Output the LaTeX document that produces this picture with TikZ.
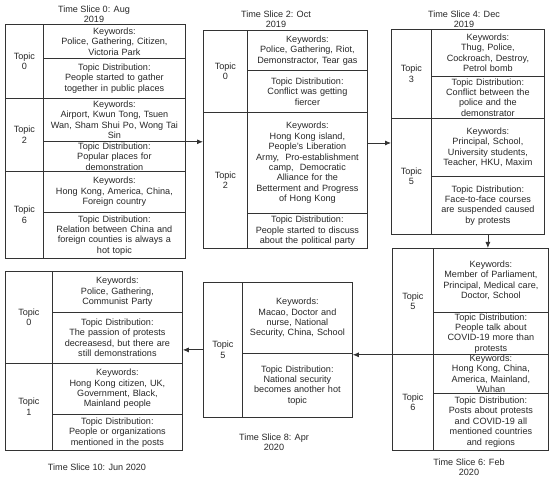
\documentclass[tikz,border=0pt]{standalone}
\usepackage{fontspec}
\setmainfont{Liberation Sans}
\usetikzlibrary{arrows.meta}

\begin{document}
\begin{tikzpicture}[x=1pt,y=-1pt,
    font=\fontsize{9.1}{10.4}\selectfont, text=black!85,
    box/.style 2 args={draw=black!80, line width=0.8pt, anchor=north west, align=center,
        inner xsep=2pt, inner ysep=0.3pt, minimum width=#1, minimum height=#2, text width=#1-5},
    title/.style={align=center},
    arr/.style={draw=black!80, line width=0.8pt, -{Latex[length=6pt,width=5pt]}}]
    \useasboundingbox (0,0) rectangle (550,478);

    % time slice 0
    \node[title] (s0title) at (94,14) {Time Slice 0: Aug\\2019};
    \node[box={38}{74}] (s0t0) at (5,24) {Topic\\0};
    \node[box={142}{34}] (s0t0kw) at (43,24) {Keywords:\\Police, Gathering, Citizen,\\Victoria Park};
    \node[box={142}{40}] (s0t0td) at (43,58) {Topic Distribution:\\People started to gather\\together in public places};
    \node[box={38}{73}] (s0t2) at (5,98) {Topic\\2};
    \node[box={142}{43}] (s0t2kw) at (43,98) {Keywords:\\Airport, Kwun Tong, Tsuen\\Wan, Sham Shui Po, Wong Tai\\Sin};
    \node[box={142}{30}] (s0t2td) at (43,141) {Topic Distribution:\\Popular places for\\demonstration};
    \node[box={38}{87}] (s0t6) at (5,171) {Topic\\6};
    \node[box={142}{41}] (s0t6kw) at (43,171) {Keywords:\\Hong Kong, America, China,\\Foreign country};
    \node[box={142}{46}] (s0t6td) at (43,212) {Topic Distribution:\\Relation between China and\\foreign counties is always a\\hot topic};

    % time slice 2
    \node[title] (s2title) at (276,19) {Time Slice 2: Oct\\2019};
    \node[box={44}{82}] (s2t0) at (203,30) {Topic\\0};
    \node[box={120}{40}] (s2t0kw) at (247,30) {Keywords:\\Police, Gathering, Riot,\\Demonstractor, Tear gas};
    \node[box={120}{42}] (s2t0td) at (247,70) {Topic Distribution:\\Conflict was getting\\fiercer};
    \node[box={44}{136}] (s2t2) at (203,112) {Topic\\2};
    \node[box={120}{101}] (s2t2kw) at (247,112) {Keywords:\\Hong Kong island,\\People's Liberation\\Army,\ \ Pro-establishment\\camp,\ \ Democratic\\Alliance for the\\Betterment and Progress\\of Hong Kong};
    \node[box={120}{35}] (s2t2td) at (247,213) {Topic Distribution:\\People started to discuss\\about the political party};

    % time slice 4
    \node[title] (s4title) at (464,19) {Time Slice 4: Dec\\2019};
    \node[box={40}{89}] (s4t3) at (391,29) {Topic\\3};
    \node[box={113}{47}] (s4t3kw) at (431,29) {Keywords:\\Thug, Police,\\Cockroach, Destroy,\\Petrol bomb};
    \node[box={113}{42}] (s4t3td) at (431,76) {Topic Distribution:\\Conflict between the\\police and the\\demonstrator};
    \node[box={40}{116}] (s4t5) at (391,118) {Topic\\5};
    \node[box={113}{58}] (s4t5kw) at (431,118) {Keywords:\\Principal, School,\\University students,\\Teacher, HKU, Maxim};
    \node[box={113}{58}] (s4t5td) at (431,176) {Topic Distribution:\\Face-to-face courses\\are suspended caused\\by protests};

    % time slice 6
    \node[box={41}{106}] (s6t5) at (392,248) {Topic\\5};
    \node[box={115}{64}] (s6t5kw) at (433,248) {Keywords:\\Member of Parliament,\\Principal, Medical care,\\Doctor, School};
    \node[box={115}{42}] (s6t5td) at (433,312) {Topic Distribution:\\People talk about\\COVID-19 more than\\protests};
    \node[box={41}{96}] (s6t6) at (392,354) {Topic\\6};
    \node[box={115}{39}] (s6t6kw) at (433,354) {Keywords:\\Hong Kong, China,\\America, Mainland,\\Wuhan};
    \node[box={115}{57}] (s6t6td) at (433,393) {Topic Distribution:\\Posts about protests\\and COVID-19 all\\mentioned countries\\and regions};
    \node[title] (s6title) at (469,467) {Time Slice 6: Feb\\2020};

    % time slice 8
    \node[box={39}{135}] (s8t5) at (203,282) {Topic\\5};
    \node[box={110}{71}] (s8t5kw) at (242,282) {Keywords:\\Macao, Doctor and\\nurse, National\\Security, China, School};
    \node[box={110}{64}] (s8t5td) at (242,353) {Topic Distribution:\\National security\\becomes another hot\\topic};
    \node[title] (s8title) at (274,442) {Time Slice 8: Apr\\2020};

    % time slice 10
    \node[box={47}{92}] (s10t0) at (5,271) {Topic\\0};
    \node[box={130}{41}] (s10t0kw) at (52,271) {Keywords:\\Police, Gathering,\\Communist Party};
    \node[box={130}{51}] (s10t0td) at (52,312) {Topic Distribution:\\The passion of protests\\decreasesd, but there are\\still demonstrations};
    \node[box={47}{87}] (s10t1) at (5,363) {Topic\\1};
    \node[box={130}{51}] (s10t1kw) at (52,363) {Keywords:\\Hong Kong citizen, UK,\\Government, Black,\\Mainland people};
    \node[box={130}{36}] (s10t1td) at (52,414) {Topic Distribution:\\People or organizations\\mentioned in the posts};
    \node[title] (s10title) at (97,467) {Time Slice 10: Jun 2020};

    % arrows between the time slices
    \coordinate (bc) at (0,143);
    \draw[arr] (s0t2kw.south east) -- (s0t2kw.south east -| s2t2.west);
    \draw[arr] (s2t2kw.east |- bc) -- (s4t5.west |- bc);
    \draw[arr] (s4t5td.south) -- (s4t5td.south |- s6t5kw.north);
    \draw[arr] (s6t5.south west) -- (s6t5.south west -| s8t5kw.east);
    \draw[arr] (s8t5.west) -- (s8t5.west -| s10t0td.east);

\end{tikzpicture}
\end{document}
